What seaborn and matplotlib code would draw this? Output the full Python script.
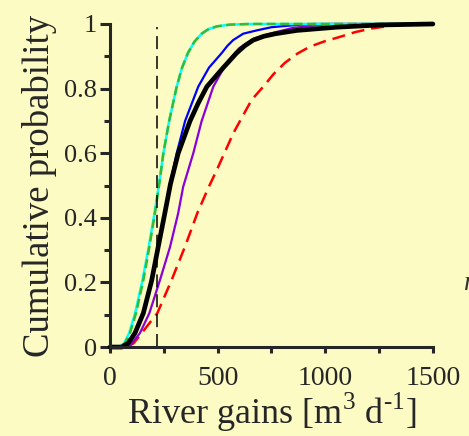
import matplotlib
matplotlib.use('Agg')
import matplotlib.pyplot as plt
import seaborn as sns

# curves: river gains [m3/d] vs cumulative probability
green_x = [0, 46, 70, 93, 121, 155, 183, 209, 228, 248, 275, 310, 335, 362, 392, 426, 460, 500, 557, 650, 1500]
green_y = [0, 0, 0.012, 0.043, 0.105, 0.207, 0.31, 0.415, 0.5, 0.6, 0.7, 0.806, 0.865, 0.91, 0.945, 0.97, 0.985, 0.993, 0.998, 1, 1]

cyan_x = [0, 42, 66, 89, 117, 151, 180, 207, 227, 248, 275, 310, 335, 362, 392, 426, 460, 500, 557, 650, 1500]
cyan_y = [0, 0, 0.012, 0.043, 0.105, 0.207, 0.31, 0.415, 0.5, 0.6, 0.7, 0.806, 0.865, 0.91, 0.945, 0.97, 0.985, 0.993, 0.998, 1, 1]

black_x = [0, 55, 85, 116, 155, 194, 224, 255, 281, 317, 372, 410, 450, 520, 588, 625, 665, 715, 770, 867, 1050, 1254, 1500]
black_y = [0, 0, 0.012, 0.043, 0.105, 0.207, 0.31, 0.415, 0.505, 0.6, 0.7, 0.755, 0.806, 0.86, 0.91, 0.932, 0.95, 0.962, 0.97, 0.98, 0.99, 0.997, 1]

blue_x = [0, 55, 85, 116, 155, 194, 224, 255, 279, 310, 349, 410, 460, 519, 545, 572, 619, 681, 750, 850, 945, 1500]
blue_y = [0, 0, 0.012, 0.043, 0.105, 0.207, 0.31, 0.415, 0.505, 0.6, 0.7, 0.806, 0.865, 0.91, 0.932, 0.95, 0.97, 0.98, 0.99, 0.996, 1, 1]

purple_x = [0, 70, 100, 139, 183, 232, 279, 317, 340, 387, 426, 480, 542, 600, 670, 743, 850, 1020, 1500]
purple_y = [0, 0, 0.01, 0.043, 0.105, 0.207, 0.31, 0.415, 0.496, 0.6, 0.7, 0.806, 0.88, 0.925, 0.955, 0.97, 0.988, 1, 1]

red_x = [0, 80, 110, 147, 220, 286, 348, 406, 455, 503, 573, 596, 658, 712, 760, 813, 870, 929, 1000, 1068, 1140, 1222, 1300, 1400, 1500]
red_y = [0, 0, 0.012, 0.043, 0.105, 0.207, 0.31, 0.415, 0.49, 0.558, 0.662, 0.69, 0.765, 0.806, 0.845, 0.88, 0.908, 0.93, 0.947, 0.96, 0.975, 0.987, 0.994, 1, 1]

threshold_x = [218, 218]
threshold_y = [0, 0.99]

x_ticks = [0, 500, 1000, 1500]
y_ticks = [0, 0.2, 0.4, 0.6, 0.8, 1]
y_tick_labels = ['0', '0.2', '0.4', '0.6', '0.8', '1']

bg = '#FBFBC3'

sns.set_style('ticks')
plt.rcParams['font.family'] = ['Liberation Serif', 'DejaVu Serif']
plt.rcParams['mathtext.fontset'] = 'custom'
plt.rcParams['mathtext.rm'] = 'Liberation Serif'

fig = plt.figure(figsize=(4.69, 4.36), dpi=100, facecolor=bg)
ax = fig.add_axes([0.2345, 0.204, 0.6885, 0.741])
ax.set_facecolor(bg)

sns.lineplot(x=red_x, y=red_y, ax=ax, color='#FF0000', lw=1.8,
             linestyle=(0, (5.2, 2.8)), clip_on=False)
sns.lineplot(x=purple_x, y=purple_y, ax=ax, color='#8B00D8', lw=1.6, clip_on=False)
sns.lineplot(x=blue_x, y=blue_y, ax=ax, color='#0000FF', lw=1.6, clip_on=False)
sns.lineplot(x=cyan_x, y=cyan_y, ax=ax, color='#00FFFF', lw=1.8, clip_on=False)
sns.lineplot(x=green_x, y=green_y, ax=ax, color='#33BB33', lw=1.8,
             linestyle=(0, (3.6, 1.8)), clip_on=False)
sns.lineplot(x=black_x, y=black_y, ax=ax, color='black', lw=3.4, clip_on=False)
sns.lineplot(x=threshold_x, y=threshold_y, ax=ax, color='black', lw=1.1,
             estimator=None, sort=False, linestyle=(0, (8.5, 4.5)))

ax.set_xlim(0, 1500)
ax.set_ylim(0, 1)
ax.set_xticks(x_ticks)
ax.set_xticks([250, 750, 1250], minor=True)
ax.set_yticks(y_ticks)
ax.set_yticklabels(y_tick_labels)
ax.set_yticks([0.1, 0.3, 0.5, 0.7, 0.9], minor=True)

for s in ['top', 'right']:
    ax.spines[s].set_visible(False)
for s in ['left', 'bottom']:
    ax.spines[s].set_linewidth(2.2)

ax.tick_params(axis='y', which='major', length=7.5, width=2.2, pad=2, labelsize=19)
ax.tick_params(axis='y', which='minor', length=4.5, width=2.2)
ax.tick_params(axis='x', which='both', length=4.5, width=2.2, pad=9, labelsize=20)

ax.set_xlabel('River gains [m$^{3}$ d$^{\u2010 1}$]', fontsize=26, labelpad=0)
ax.set_ylabel('Cumulative probability', fontsize=26.5, labelpad=5)

# cut-off letter at the right edge of the source figure
fig.text(0.988, 0.335, 'n', fontsize=20, style='italic', color='#333333')

fig.savefig('out.png', dpi=100, facecolor=bg)
